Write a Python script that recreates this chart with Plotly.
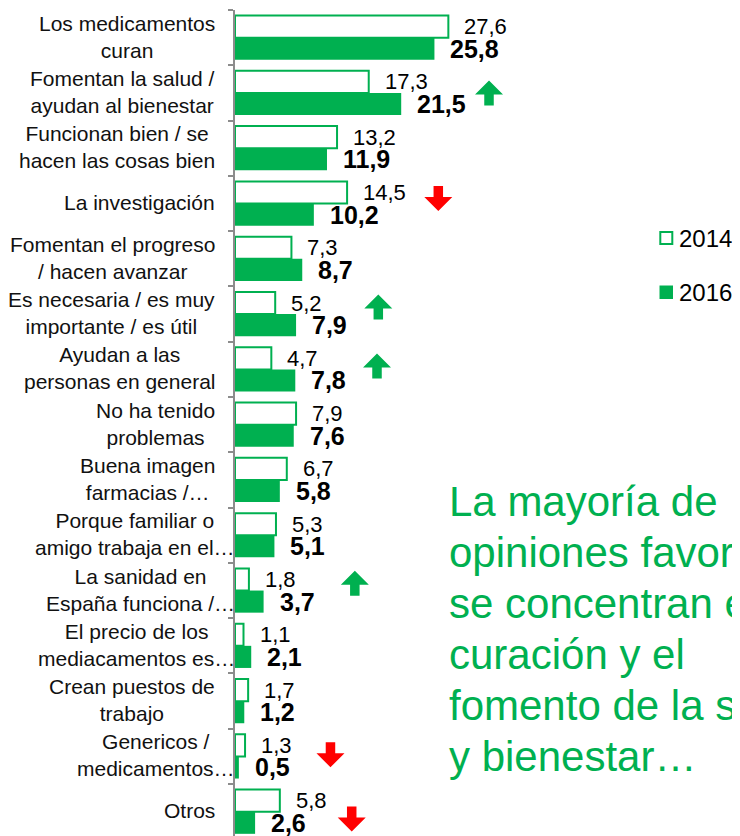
import plotly.graph_objects as go

categories = [
    "Los medicamentos<br>curan",
    "Fomentan la salud /<br>ayudan al bienestar",
    "Funcionan bien / se<br>hacen las cosas bien",
    "La investigación",
    "Fomentan el progreso<br>/ hacen avanzar",
    "Es necesaria / es muy<br>importante / es útil",
    "Ayudan a las<br>personas en general",
    "No ha tenido<br>problemas",
    "Buena imagen<br>farmacias /…",
    "Porque familiar o<br>amigo trabaja en el…",
    "La sanidad en<br>España funciona /…",
    "El precio de los<br>mediacamentos es…",
    "Crean puestos de<br>trabajo",
    "Genericos /<br>medicamentos…",
    "Otros",
]
values_2014 = [27.6, 17.3, 13.2, 14.5, 7.3, 5.2, 4.7, 7.9, 6.7, 5.3, 1.8, 1.1, 1.7, 1.3, 5.8]
values_2016 = [25.8, 21.5, 11.9, 10.2, 8.7, 7.9, 7.8, 7.6, 5.8, 5.1, 3.7, 2.1, 1.2, 0.5, 2.6]
series_names = ["2014", "2016"]

# change markers: (x value, y position in category units)
arrows_up_x = [32.86, 18.54, 18.37, 15.5]
arrows_up_y = [1.0, 4.87, 5.94, 9.87]
arrows_down_x = [26.3, 12.35, 15.1]
arrows_down_y = [2.91, 12.97, 14.13]

callout_lines = [
    "La mayoría de",
    "opiniones favorables",
    "se concentran en la",
    "curación y el",
    "fomento de la salud",
    "y bienestar…",
]

GREEN = "#00B050"
RED = "#FF0000"
FONT = "Arial, Liberation Sans, sans-serif"
OFF = 8  # page body margin
W, H = 740 - OFF, 836 - OFF
AXIS_X, TOP_Y = 235, 10          # reference page pixels
ML, MT = AXIS_X - OFF, TOP_Y - OFF
PW, PH = W - ML, H - MT


def px_x(px):
    return (px - OFF - ML) / PW


def px_y(py):
    return (H - (py - OFF)) / PH


def fmt(v):
    return f"{v:.1f}".replace(".", ",")


fig = go.Figure()
fig.add_trace(go.Bar(
    name=series_names[0], y=categories, x=values_2014, orientation="h",
    marker=dict(color="white", line=dict(color=GREEN, width=2)),
    showlegend=False, hoverinfo="x+y",
))
fig.add_trace(go.Bar(
    name=series_names[1], y=categories, x=values_2016, orientation="h",
    marker=dict(color=GREEN, line=dict(color=GREEN, width=0)),
    showlegend=False, hoverinfo="x+y",
))

annotations = []
overflow_idx = {9, 10, 11, 13}
for i, cat in enumerate(categories):
    right = 237 if i in overflow_idx else 217
    annotations.append(dict(
        x=0, xref="paper", y=i, yref="y", text=cat, showarrow=False,
        xanchor="right", yanchor="middle", align="center",
        xshift=right - AXIS_X, yshift=1, font=dict(family=FONT, size=21, color="#111111"),
    ))
for i, (a, b) in enumerate(zip(values_2014, values_2016)):
    annotations.append(dict(
        x=a, y=i, xref="x", yref="y", text=fmt(a), showarrow=False,
        xanchor="left", yanchor="middle", xshift=14, yshift=11,
        font=dict(family=FONT, size=22, color="#000000"),
    ))
    annotations.append(dict(
        x=b, y=i, xref="x", yref="y", text="<b>" + fmt(b) + "</b>", showarrow=False,
        xanchor="left", yanchor="middle", xshift=14, yshift=-11,
        font=dict(family=FONT, size=25, color="#000000"),
    ))

# callout text
for k, line in enumerate(callout_lines):
    center = 501.7 + 51 * k
    annotations.append(dict(
        x=px_x(447), y=px_y(center), xref="paper", yref="paper", text=line,
        showarrow=False, xanchor="left", yanchor="middle",
        font=dict(family=FONT, size=42, color=GREEN),
    ))

# legend text
for name, cy in zip(series_names, [238, 292]):
    annotations.append(dict(
        x=px_x(677), y=px_y(cy), xref="paper", yref="paper", text=name,
        showarrow=False, xanchor="left", yanchor="middle",
        font=dict(family=FONT, size=24, color="#000000"),
    ))

shapes = []
# legend swatches
shapes.append(dict(type="rect", xref="paper", yref="paper",
                   x0=px_x(660.3), x1=px_x(672.3), y0=px_y(232), y1=px_y(244),
                   fillcolor="white", line=dict(color=GREEN, width=2)))
shapes.append(dict(type="rect", xref="paper", yref="paper",
                   x0=px_x(659.5), x1=px_x(673), y0=px_y(285.5), y1=px_y(299),
                   fillcolor=GREEN, line=dict(width=0)))

UP = "M-4.75,-12.5 L4.75,-12.5 L4.75,-1.5 L14,-1.5 L0,12.5 L-14,-1.5 L-4.75,-1.5 Z"
DOWN = "M-4.75,12.5 L4.75,12.5 L4.75,1.5 L14,1.5 L0,-12.5 L-14,1.5 L-4.75,1.5 Z"
for ax, ay in zip(arrows_up_x, arrows_up_y):
    shapes.append(dict(type="path", xref="x", yref="y", xsizemode="pixel", ysizemode="pixel",
                       xanchor=ax, yanchor=ay, path=UP, fillcolor=GREEN, line=dict(width=0)))
for ax, ay in zip(arrows_down_x, arrows_down_y):
    shapes.append(dict(type="path", xref="x", yref="y", xsizemode="pixel", ysizemode="pixel",
                       xanchor=ax, yanchor=ay, path=DOWN, fillcolor=RED, line=dict(width=0)))

fig.update_layout(
    width=W, height=H,
    margin=dict(l=ML, r=0, t=MT, b=0, pad=0),
    paper_bgcolor="white", plot_bgcolor="white",
    barmode="group", bargap=0.2, bargroupgap=0,
    annotations=annotations, shapes=shapes,
    showlegend=False,
    font=dict(family=FONT),
)
fig.update_xaxes(range=[0, PW / 7.73], visible=False, showgrid=False, zeroline=False)
fig.update_yaxes(
    type="category", categoryorder="array", categoryarray=categories,
    range=[-0.5 + PH / 55.29, -0.5],
    showticklabels=False, showgrid=False, zeroline=False,
    showline=True, linecolor="#8C8C8C", linewidth=2,
    ticks="outside", tickson="boundaries", ticklen=5, tickcolor="#8C8C8C", tickwidth=2,
)

fig.write_html("out.html")
